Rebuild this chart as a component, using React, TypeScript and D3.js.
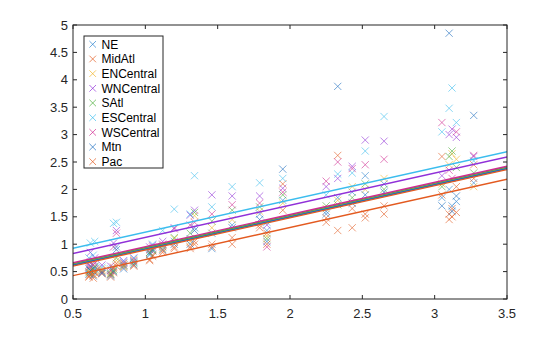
import React from "react";
import * as d3 from "d3";

const regions = ["NE", "MidAtl", "ENCentral", "WNCentral", "SAtl", "ESCentral", "WSCentral", "Mtn", "Pac"];
const colors = ["#2b83cf", "#e35a20", "#f0b429", "#9030d8", "#4cae3a", "#3bbdee", "#d02a90", "#1a6bbf", "#e35a20"];

const weeks = [0.61, 0.62, 0.64, 0.65, 0.70, 0.76, 0.78, 0.80, 0.85, 0.92, 1.03, 1.05, 1.12, 1.20, 1.31, 1.34, 1.46, 1.60, 1.79, 1.84, 1.95, 2.25, 2.33, 2.43, 2.52, 2.65, 3.05, 3.10, 3.12, 3.15, 3.27];

const NE = [0.55, 0.60, 0.50, 0.58, 0.50, 0.45, 0.55, 0.95, 0.62, 0.68, 0.85, 0.92, 0.95, 1.05, 1.10, 1.30, 1.20, 1.35, 1.55, 1.25, 1.80, 1.55, 1.85, 1.95, 2.25, 2.10, 1.85, 2.00, 1.70, 1.78, 2.12];
const MidAtl = [0.42, 0.45, 0.38, 0.48, 0.46, 0.40, 0.48, 0.60, 0.58, 0.62, 0.72, 0.80, 0.85, 0.95, 0.92, 1.00, 0.95, 1.00, 1.30, 1.20, 2.10, 1.48, 2.62, 1.65, 1.55, 1.70, 2.60, 1.55, 1.50, 2.05, 2.45];
const ENCentral = [0.50, 0.55, 0.45, 0.52, 0.55, 0.48, 0.55, 0.70, 0.65, 0.72, 0.90, 0.88, 0.92, 1.10, 1.05, 1.52, 1.30, 1.45, 1.60, 1.15, 1.75, 1.65, 1.80, 2.05, 2.00, 2.20, 2.10, 2.45, 2.65, 2.55, 2.05];
const WNCentral = [0.62, 0.85, 0.70, 0.75, 0.62, 0.60, 1.02, 1.25, 0.70, 0.75, 0.95, 0.98, 1.05, 1.30, 1.53, 1.62, 1.90, 1.88, 1.88, 1.35, 2.02, 2.05, 2.20, 2.42, 2.90, 2.88, 2.25, 3.00, 3.10, 2.95, 2.60];
const SAtl = [0.48, 0.52, 0.55, 0.60, 0.50, 0.46, 0.52, 0.75, 0.60, 0.66, 0.85, 0.90, 0.98, 1.12, 1.20, 1.58, 1.42, 1.62, 1.68, 1.10, 1.90, 1.70, 1.72, 1.85, 2.10, 2.00, 2.05, 2.60, 2.70, 2.40, 2.30];
const ESCentral = [0.75, 1.02, 0.80, 1.05, 0.58, 0.55, 1.38, 1.40, 0.68, 0.74, 0.80, 1.00, 1.25, 1.64, 1.55, 2.25, 1.68, 2.05, 2.12, 1.40, 2.20, 1.90, 2.28, 2.30, 2.70, 3.33, 3.05, 3.48, 3.85, 3.22, 2.52];
const WSCentral = [0.58, 0.68, 0.62, 0.65, 0.48, 0.52, 0.95, 1.20, 0.66, 0.70, 0.90, 0.95, 1.00, 1.28, 1.35, 1.40, 1.55, 1.72, 1.75, 0.95, 1.95, 2.15, 2.50, 2.38, 2.45, 2.55, 3.22, 2.35, 2.20, 3.05, 2.62];
const Mtn = [0.45, 0.52, 0.42, 0.55, 0.47, 0.42, 0.50, 0.90, 0.55, 0.63, 0.82, 0.88, 0.90, 1.00, 1.00, 1.25, 0.92, 1.30, 1.45, 1.05, 2.37, 1.60, 3.88, 1.75, 1.90, 1.95, 1.70, 4.85, 1.60, 1.88, 3.35];
const Pac = [0.40, 0.48, 0.44, 0.50, 0.52, 0.44, 0.58, 0.65, 0.62, 0.60, 0.70, 0.78, 0.88, 0.92, 0.95, 1.05, 1.00, 1.12, 1.35, 1.00, 1.62, 1.40, 1.25, 1.30, 1.48, 1.55, 1.90, 1.45, 1.65, 1.58, 2.20];

const series = [NE, MidAtl, ENCentral, WNCentral, SAtl, ESCentral, WSCentral, Mtn, Pac];

// fitted model: common slope, region-specific intercepts
const slope = 0.587;
const intercepts = [0.337, 0.132, 0.347, 0.537, 0.352, 0.632, 0.367, 0.322, 0.307];

const xTicks = [0.5, 1, 1.5, 2, 2.5, 3, 3.5];
const yTicks = [0, 0.5, 1, 1.5, 2, 2.5, 3, 3.5, 4, 4.5, 5];

const W = 560, H = 337;
const L = 73, R = 507, T = 25, B = 299;

export default function App() {
  const x = d3.scaleLinear().domain([0.5, 3.5]).range([L, R]);
  const y = d3.scaleLinear().domain([0, 5]).range([B, T]);
  const line = d3.line<number>().x((d) => x(d)).y((d) => y(d));
  const ms = 3.6;
  const font = "'Liberation Sans', Arial, Helvetica, sans-serif";
  const xLine = [0.5, 3.5];

  return (
    <svg width={W} height={H} style={{ position: "absolute", left: 0, top: 0, background: "#fff" }} fontFamily={font}>
      <rect x={0} y={0} width={W} height={H} fill="#fff" />
      <defs>
        <clipPath id="plotclip">
          <rect x={L} y={T} width={R - L} height={B - T} />
        </clipPath>
      </defs>
      <g clipPath="url(#plotclip)">
        {series.map((s, i) => (
          <g key={regions[i]} stroke={colors[i]} strokeWidth={0.7} opacity={0.85}>
            {s.map((v, j) => {
              const cx = x(weeks[j]);
              const cy = y(v);
              return (
                <path key={j} d={`M${cx - ms},${cy - ms}L${cx + ms},${cy + ms}M${cx - ms},${cy + ms}L${cx + ms},${cy - ms}`} fill="none" />
              );
            })}
          </g>
        ))}
        {intercepts.map((b, i) => (
          <path key={"l" + i} d={line.y((d) => y(b + slope * d))(xLine) || ""} stroke={colors[i]} strokeWidth={1.4} fill="none" />
        ))}
      </g>
      {/* axes box */}
      <rect x={L} y={T} width={R - L} height={B - T} fill="none" stroke="#262626" strokeWidth={1} />
      {xTicks.map((t) => (
        <g key={"x" + t}>
          <line x1={x(t)} x2={x(t)} y1={B} y2={B - 4} stroke="#262626" />
          <line x1={x(t)} x2={x(t)} y1={T} y2={T + 4} stroke="#262626" />
          <text x={x(t)} y={318} textAnchor="middle" fontSize={13} fill="#262626">{String(t)}</text>
        </g>
      ))}
      {yTicks.map((t) => (
        <g key={"y" + t}>
          <line x1={L} x2={L + 4} y1={y(t)} y2={y(t)} stroke="#262626" />
          <line x1={R} x2={R - 4} y1={y(t)} y2={y(t)} stroke="#262626" />
          <text x={68} y={y(t)} dy="0.35em" textAnchor="end" fontSize={13} fill="#262626">{String(t)}</text>
        </g>
      ))}
      {/* legend */}
      <rect x={84} y={36} width={79} height={132} fill="#fff" stroke="#262626" strokeWidth={1} />
      {regions.map((r, i) => {
        const cy = 44.3 + i * 14.67;
        const cx = 92.7;
        const m = 3.3;
        return (
          <g key={"lg" + r}>
            <path d={`M${cx - m},${cy - m}L${cx + m},${cy + m}M${cx - m},${cy + m}L${cx + m},${cy - m}`} stroke={colors[i]} strokeWidth={0.7} fill="none" />
            <text x={101.5} y={cy} dy="0.36em" fontSize={12} fill="#000">{r}</text>
          </g>
        );
      })}
    </svg>
  );
}
